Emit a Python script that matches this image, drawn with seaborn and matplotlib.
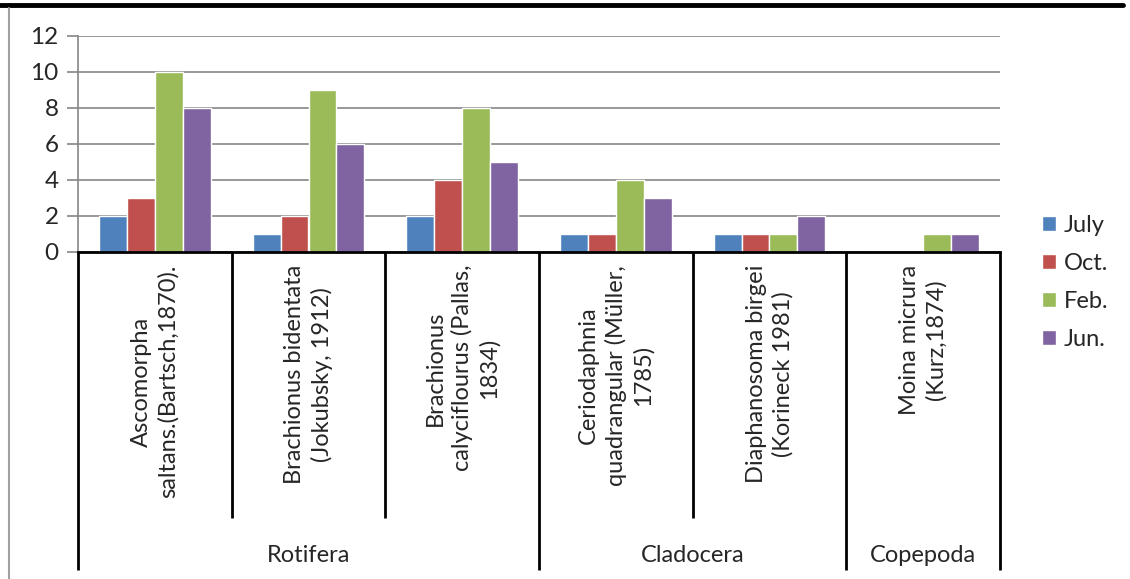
import numpy as np
import pandas as pd
import seaborn as sns
import matplotlib.pyplot as plt

# species (x categories), with their wrapped labels and their group
species = [
    "Ascomorpha\nsaltans.(Bartsch,1870).",
    "Brachionus bidentata\n(Jokubsky, 1912)",
    "Brachionus\ncalyciflourus (Pallas,\n1834)",
    "Ceriodaphnia\nquadrangular (Müller,\n1785)",
    "Diaphanosoma birgei\n(Korineck 1981)",
    "Moina micrura\n(Kurz,1874)",
]
groups = ["Rotifera", "Cladocera", "Copepoda"]
group_sizes = [3, 2, 1]
months = ["July", "Oct.", "Feb.", "Jun."]

july = [2, 1, 2, 1, 1, 0]
octo = [3, 2, 4, 1, 1, 0]
feb = [10, 9, 8, 4, 1, 1]
jun = [8, 6, 5, 3, 2, 1]

colors = ["#4F81BD", "#C0504D", "#9BBB59", "#8064A2"]

df = pd.DataFrame({
    "species": species * 4,
    "month": np.repeat(months, len(species)),
    "count": july + octo + feb + jun,
})

sns.set_style("white")
plt.rcParams["font.family"] = ["Lato", "DejaVu Sans"]
FS = 17

W, H = 1130, 579
fig = plt.figure(figsize=(W / 100, H / 100), dpi=100)
ax = fig.add_axes([78 / W, (H - 252) / H, (1000 - 78) / W, 216 / H])

sns.barplot(data=df, x="species", y="count", hue="month", palette=colors,
            width=0.727, gap=0, errorbar=None, saturation=1, ax=ax)

ax.set_ylim(0, 12)
ax.set_xlim(-0.5, len(species) - 0.5)
ax.set_yticks(range(0, 13, 2))
ax.yaxis.grid(True, color="#868686", linewidth=1.2)
ax.set_axisbelow(True)
ax.tick_params(axis="y", left=True, length=8, color="#868686", width=1.2,
               labelsize=FS + 0.5, pad=6)
ax.tick_params(axis="x", bottom=False, labelbottom=False)
ax.set_xlabel("")
ax.set_ylabel("")
for s in ["top", "right"]:
    ax.spines[s].set_visible(False)
ax.spines["left"].set_color("#868686")
ax.spines["left"].set_linewidth(1.2)
ax.spines["bottom"].set_color("black")
ax.spines["bottom"].set_linewidth(2)

# category labels, rotated under each bar group
tr = ax.get_xaxis_transform()
for i, lab in enumerate(species):
    ax.text(i, -0.06, lab, transform=tr, rotation=90, ha="center", va="top",
            multialignment="center", fontsize=FS, linespacing=1.3)

# separators: inner ones short, group boundaries long
bounds = np.cumsum([0] + group_sizes) - 0.5
for k in range(len(species) + 1):
    xk = k - 0.5
    y_end = -1.472 if xk in bounds else -1.231
    ax.plot([xk, xk], [0, y_end], transform=tr, color="black", lw=2,
            clip_on=False, solid_capstyle="butt")

for g, name in enumerate(groups):
    xc = (bounds[g] + bounds[g + 1]) / 2
    ax.text(xc, -1.403, name, transform=tr, ha="center", va="center",
            fontsize=FS)

ax.legend(loc="center left", bbox_to_anchor=(1.035, -0.14), frameon=False,
          fontsize=FS, handlelength=0.6, handleheight=0.6, handletextpad=0.35,
          labelspacing=0.72, borderaxespad=0)

# page frame: thick rule at top and thin grey line on the left
fig.add_artist(plt.Line2D([0, 1123 / W], [1 - 5 / H, 1 - 5 / H],
                          color="black", lw=3.5))
fig.add_artist(plt.Line2D([9 / W, 9 / W], [0, 1 - 8 / H],
                          color="#A0A0A0", lw=1.5))

fig.savefig("out.png", dpi=100)
